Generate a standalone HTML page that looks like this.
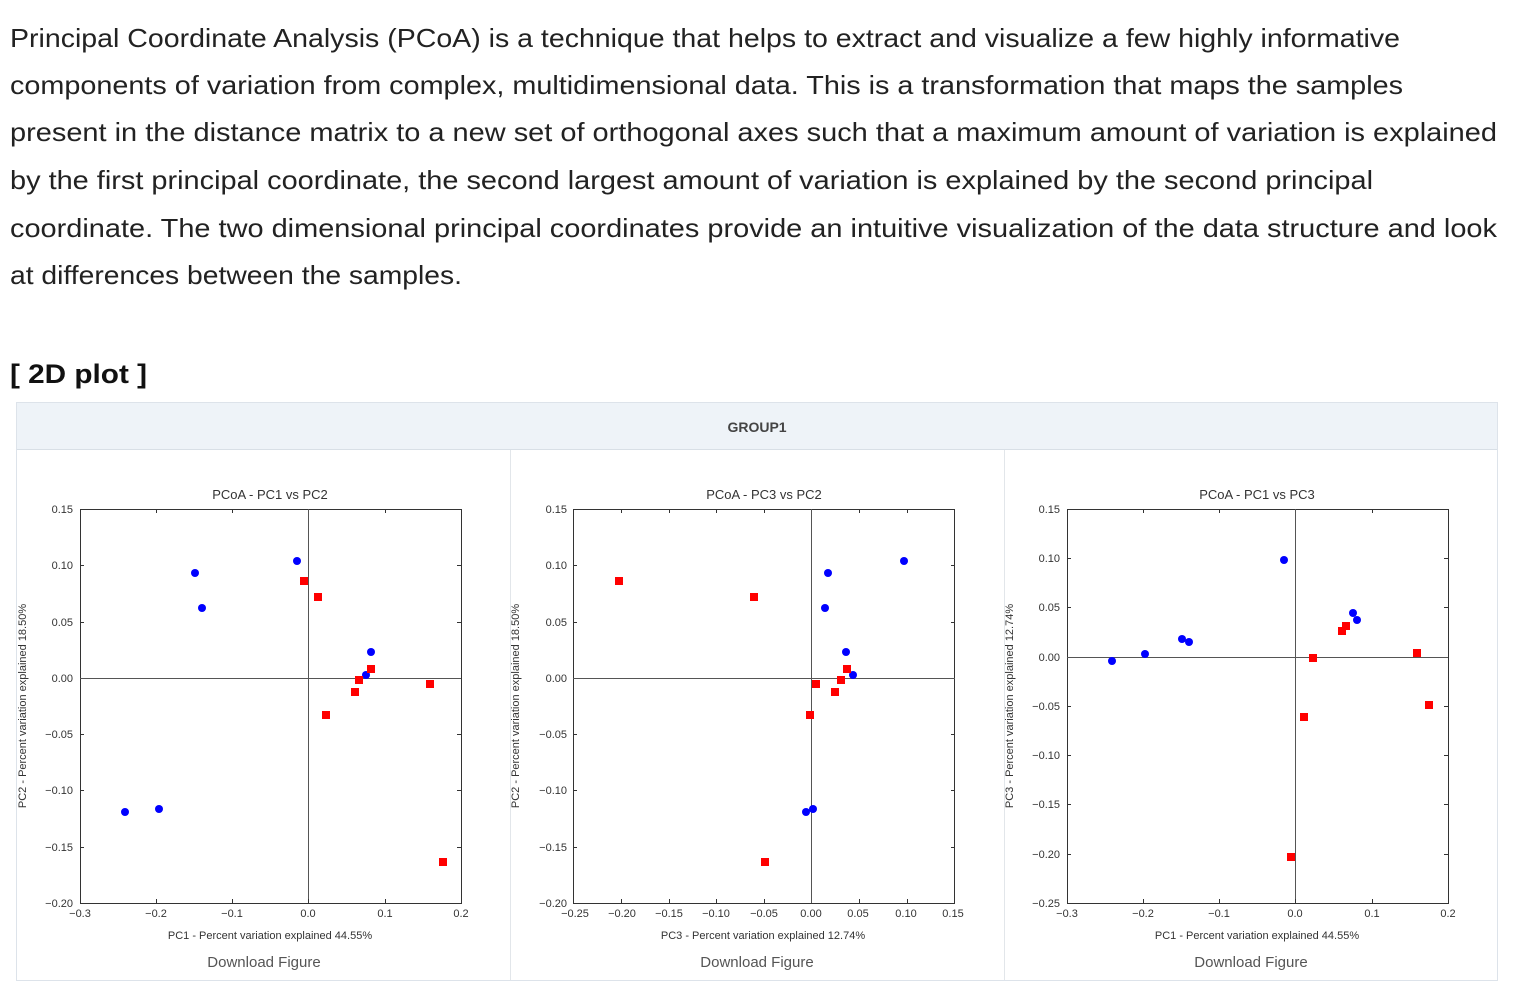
<!DOCTYPE html>
<html><head><meta charset="utf-8"><style>
html,body{margin:0;padding:0;background:#fff;}
svg{display:block;}
text{font-family:"Liberation Sans",sans-serif;}
.p{font-size:26px;fill:#222;}
.tk{font-size:11px;fill:#333;}
.tl{font-size:13px;fill:#333;}
.al{font-size:11px;fill:#333;}
.dl{font-size:15px;fill:#555;}
</style></head><body>
<svg width="1521" height="1008" viewBox="0 0 1521 1008" xmlns="http://www.w3.org/2000/svg">
<text class="p" x="10" y="47" textLength="1390" lengthAdjust="spacingAndGlyphs">Principal Coordinate Analysis (PCoA) is a technique that helps to extract and visualize a few highly informative</text>
<text class="p" x="10" y="94" textLength="1393" lengthAdjust="spacingAndGlyphs">components of variation from complex, multidimensional data. This is a transformation that maps the samples</text>
<text class="p" x="10" y="141" textLength="1487" lengthAdjust="spacingAndGlyphs">present in the distance matrix to a new set of orthogonal axes such that a maximum amount of variation is explained</text>
<text class="p" x="10" y="189" textLength="1363" lengthAdjust="spacingAndGlyphs">by the first principal coordinate, the second largest amount of variation is explained by the second principal</text>
<text class="p" x="10" y="237" textLength="1487" lengthAdjust="spacingAndGlyphs">coordinate. The two dimensional principal coordinates provide an intuitive visualization of the data structure and look</text>
<text class="p" x="10" y="284" textLength="452" lengthAdjust="spacingAndGlyphs">at differences between the samples.</text>
<text x="10" y="383" font-size="27" font-weight="bold" fill="#111" textLength="137" lengthAdjust="spacingAndGlyphs">[ 2D plot ]</text>

<rect x="16.5" y="402.5" width="1481" height="578" fill="#fff" stroke="#dde3ea"/>
<rect x="17" y="403" width="1480" height="46" fill="#eef3f8"/>
<line x1="17" y1="449.5" x2="1497" y2="449.5" stroke="#d8dfe6"/>
<line x1="510.5" y1="450" x2="510.5" y2="980" stroke="#e2e6ea"/>
<line x1="1004.5" y1="450" x2="1004.5" y2="980" stroke="#e2e6ea"/>
<text x="757" y="432" font-size="14" font-weight="bold" fill="#444" text-anchor="middle">GROUP1</text>

<!-- ========== PLOT 1 ========== -->
<g>
<text class="tl" x="270" y="499" text-anchor="middle">PCoA - PC1 vs PC2</text>
<rect x="80.5" y="509.5" width="381" height="394" fill="none" stroke="#333"/>
<line x1="308.5" y1="509" x2="308.5" y2="903" stroke="#555"/>
<line x1="80" y1="678.5" x2="461" y2="678.5" stroke="#555"/>
<g stroke="#333">
<path d="M156.5 509v4M232.5 509v4M385.5 509v4M156.5 903v-4M232.5 903v-4M385.5 903v-4M308.5 903v-4"/>
<path d="M80 565.5h4M80 622.5h4M80 734.5h4M80 790.5h4M80 847.5h4M461 565.5h-4M461 622.5h-4M461 734.5h-4M461 790.5h-4M461 847.5h-4"/>
</g>
<g class="tk" text-anchor="end">
<text x="73" y="513">0.15</text><text x="73" y="569">0.10</text><text x="73" y="626">0.05</text><text x="73" y="682">0.00</text>
<text x="73" y="738">−0.05</text><text x="73" y="794">−0.10</text><text x="73" y="851">−0.15</text><text x="73" y="907">−0.20</text>
</g>
<g class="tk" text-anchor="middle">
<text x="80" y="917">−0.3</text><text x="156" y="917">−0.2</text><text x="232" y="917">−0.1</text><text x="308" y="917">0.0</text><text x="385" y="917">0.1</text><text x="461" y="917">0.2</text>
</g>
<text class="al" x="270" y="939" text-anchor="middle">PC1 - Percent variation explained 44.55%</text>
<text class="al" transform="translate(26,706) rotate(-90)" text-anchor="middle">PC2 - Percent variation explained 18.50%</text>
<text class="dl" x="264" y="967" text-anchor="middle">Download Figure</text>
<g fill="#0000ff">
<circle cx="297" cy="561" r="4"/><circle cx="195" cy="573" r="4"/><circle cx="202" cy="608" r="4"/><circle cx="371" cy="652" r="4"/><circle cx="366" cy="675" r="4"/><circle cx="125" cy="812" r="4"/><circle cx="159" cy="809" r="4"/>
</g>
<g fill="#ff0000">
<rect x="300" y="577" width="8" height="8"/><rect x="314" y="593" width="8" height="8"/><rect x="367" y="665" width="8" height="8"/><rect x="355" y="676" width="8" height="8"/><rect x="351" y="688" width="8" height="8"/><rect x="426" y="680" width="8" height="8"/><rect x="322" y="711" width="8" height="8"/><rect x="439" y="858" width="8" height="8"/>
</g>
</g>

<!-- ========== PLOT 2 ========== -->
<g>
<text class="tl" x="764" y="499" text-anchor="middle">PCoA - PC3 vs PC2</text>
<rect x="573.5" y="509.5" width="381" height="394" fill="none" stroke="#333"/>
<line x1="811.5" y1="509" x2="811.5" y2="903" stroke="#555"/>
<line x1="573" y1="678.5" x2="955" y2="678.5" stroke="#555"/>
<g stroke="#333">
<path d="M621.5 509v4M669.5 509v4M716.5 509v4M764.5 509v4M859.5 509v4M907.5 509v4M621.5 903v-4M669.5 903v-4M716.5 903v-4M764.5 903v-4M859.5 903v-4M907.5 903v-4"/>
<path d="M573 565.5h4M573 622.5h4M573 734.5h4M573 790.5h4M573 847.5h4M955 565.5h-4M955 622.5h-4M955 734.5h-4M955 790.5h-4M955 847.5h-4"/>
</g>
<g class="tk" text-anchor="end">
<text x="567" y="513">0.15</text><text x="567" y="569">0.10</text><text x="567" y="626">0.05</text><text x="567" y="682">0.00</text>
<text x="567" y="738">−0.05</text><text x="567" y="794">−0.10</text><text x="567" y="851">−0.15</text><text x="567" y="907">−0.20</text>
</g>
<g class="tk" text-anchor="middle">
<text x="575" y="917">−0.25</text><text x="622" y="917">−0.20</text><text x="669" y="917">−0.15</text><text x="716" y="917">−0.10</text><text x="764" y="917">−0.05</text><text x="811" y="917">0.00</text><text x="858" y="917">0.05</text><text x="906" y="917">0.10</text><text x="953" y="917">0.15</text>
</g>
<text class="al" x="763" y="939" text-anchor="middle">PC3 - Percent variation explained 12.74%</text>
<text class="al" transform="translate(519,706) rotate(-90)" text-anchor="middle">PC2 - Percent variation explained 18.50%</text>
<text class="dl" x="757" y="967" text-anchor="middle">Download Figure</text>
<g fill="#0000ff">
<circle cx="904" cy="561" r="4"/><circle cx="828" cy="573" r="4"/><circle cx="825" cy="608" r="4"/><circle cx="846" cy="652" r="4"/><circle cx="853" cy="675" r="4"/><circle cx="806" cy="812" r="4"/><circle cx="813" cy="809" r="4"/>
</g>
<g fill="#ff0000">
<rect x="615" y="577" width="8" height="8"/><rect x="750" y="593" width="8" height="8"/><rect x="843" y="665" width="8" height="8"/><rect x="812" y="680" width="8" height="8"/><rect x="837" y="676" width="8" height="8"/><rect x="831" y="688" width="8" height="8"/><rect x="806" y="711" width="8" height="8"/><rect x="761" y="858" width="8" height="8"/>
</g>
</g>

<!-- ========== PLOT 3 ========== -->
<g>
<text class="tl" x="1257" y="499" text-anchor="middle">PCoA - PC1 vs PC3</text>
<rect x="1067.5" y="509.5" width="381" height="394" fill="none" stroke="#333"/>
<line x1="1295.5" y1="509" x2="1295.5" y2="903" stroke="#555"/>
<line x1="1067" y1="657.5" x2="1448" y2="657.5" stroke="#555"/>
<g stroke="#333">
<path d="M1143.5 509v4M1219.5 509v4M1372.5 509v4M1143.5 903v-4M1219.5 903v-4M1372.5 903v-4M1295.5 903v-4"/>
<path d="M1067 558.5h4M1067 607.5h4M1067 706.5h4M1067 755.5h4M1067 804.5h4M1067 854.5h4M1448 558.5h-4M1448 607.5h-4M1448 706.5h-4M1448 755.5h-4M1448 804.5h-4M1448 854.5h-4"/>
</g>
<g class="tk" text-anchor="end">
<text x="1060" y="513">0.15</text><text x="1060" y="562">0.10</text><text x="1060" y="611">0.05</text><text x="1060" y="661">0.00</text>
<text x="1060" y="710">−0.05</text><text x="1060" y="759">−0.10</text><text x="1060" y="808">−0.15</text><text x="1060" y="858">−0.20</text><text x="1060" y="907">−0.25</text>
</g>
<g class="tk" text-anchor="middle">
<text x="1067" y="917">−0.3</text><text x="1143" y="917">−0.2</text><text x="1219" y="917">−0.1</text><text x="1295" y="917">0.0</text><text x="1372" y="917">0.1</text><text x="1448" y="917">0.2</text>
</g>
<text class="al" x="1257" y="939" text-anchor="middle">PC1 - Percent variation explained 44.55%</text>
<text class="al" transform="translate(1013,706) rotate(-90)" text-anchor="middle">PC3 - Percent variation explained 12.74%</text>
<text class="dl" x="1251" y="967" text-anchor="middle">Download Figure</text>
<g fill="#0000ff">
<circle cx="1284" cy="560" r="4"/><circle cx="1112" cy="661" r="4"/><circle cx="1145" cy="654" r="4"/><circle cx="1182" cy="639" r="4"/><circle cx="1189" cy="642" r="4"/><circle cx="1353" cy="613" r="4"/><circle cx="1357" cy="620" r="4"/>
</g>
<g fill="#ff0000">
<rect x="1342" y="622" width="8" height="8"/><rect x="1338" y="627" width="8" height="8"/><rect x="1309" y="654" width="8" height="8"/><rect x="1413" y="649" width="8" height="8"/><rect x="1425" y="701" width="8" height="8"/><rect x="1300" y="713" width="8" height="8"/><rect x="1287" y="853" width="8" height="8"/>
</g>
</g>
</svg>
</body></html>
